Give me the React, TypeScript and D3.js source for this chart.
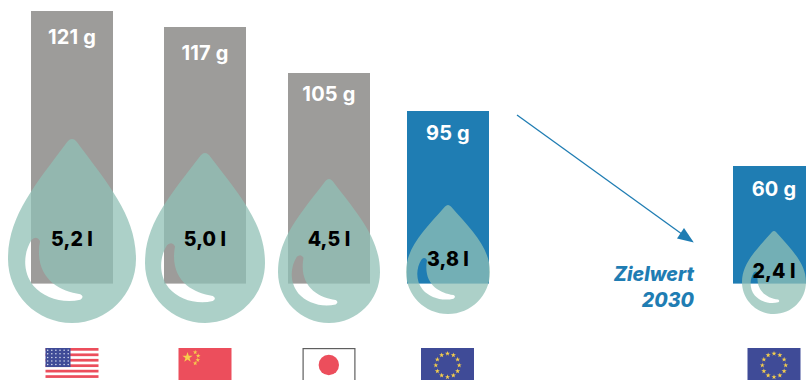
import * as d3 from "d3";

// CO2 per km (g) and fuel use (l/100 km) by market, plus the EU 2030 target
const regions = ["USA", "China", "Japan", "EU", "EU 2030"];
const grams = [121, 117, 105, 95, 60];
const litres = [5.2, 5.0, 4.5, 3.8, 2.4];
const targetLabel = ["Zielwert", "2030"];

const GREY = "#9d9c9a";
const BLUE = "#1f7db3";
const DROP = "#90c0b6";
const RED = "#ec4e5c";
const NAVY = "#3f4b97";
const GOLD = "#f6cf4c";
const FONT = "Inter, 'Noto Sans', sans-serif";

const barWidth = 82;
const barBase = 283.6;
const flagTop = 348;
const flagWidth = 53;
const flagHeight = 36;

const centre = d3.scaleOrdinal<string, number>().domain(regions).range([72, 205, 329, 448, 774]);
const barColor = d3.scaleOrdinal<string, string>().domain(regions).range([GREY, GREY, GREY, BLUE, BLUE]);

// The graphic is an infographic, so its bar and drop sizes follow hand-set stops rather than a zero-based axis
const barTop = d3.scaleLinear().domain([60, 95, 105, 117, 121]).range([166, 111, 73, 27, 11]);
const dropHeight = d3.scaleLinear().domain([2.4, 3.8, 4.5, 5.0, 5.2]).range([83, 109, 144, 170, 184]);
const dropWidth = d3.scaleLinear().domain([2.4, 3.8, 4.5, 5.0, 5.2]).range([64, 84, 102, 120, 128]);
const dropBottom = d3.scaleThreshold<number, number>().domain([4]).range([314, 323]);
const gramBaseline = d3.scaleOrdinal<string, number>().domain(regions).range([32.5, 33, 27.5, 28.5, 29.5]);
const litreBaseline = d3.scaleOrdinal<string, number>().domain(regions).range([246, 246, 246, 266, 278]);

// Drop outline: a circular belly under a tapered tip, with a crescent highlight cut out of it
function dropPath(cx: number, bottom: number, w: number, h: number) {
  const r = w / 2;
  const top = bottom - h;
  const cy = bottom - r;
  const k = 0.5523 * r;
  const p = d3.path();
  const tipR = Math.max(1.5, r * 0.07);
  const shoulder = cy - top;
  p.moveTo(cx - tipR, top + tipR * 0.55);
  p.quadraticCurveTo(cx, top - tipR * 0.55, cx + tipR, top + tipR * 0.55);
  p.bezierCurveTo(cx + r * 0.57, top + shoulder * 0.38, cx + r, top + shoulder * 0.64, cx + r, cy);
  p.bezierCurveTo(cx + r, cy + k, cx + k, bottom, cx, bottom);
  p.bezierCurveTo(cx - k, bottom, cx - r, cy + k, cx - r, cy);
  p.bezierCurveTo(cx - r, top + shoulder * 0.64, cx - r * 0.57, top + shoulder * 0.38, cx - tipR, top + tipR * 0.55);
  p.closePath();

  const X = (v: number) => cx + v * r;
  const Y = (v: number) => cy + v * r;
  p.moveTo(X(-0.63), Y(-0.3));
  p.bezierCurveTo(X(-0.76), Y(-0.1), X(-0.78), Y(0.2), X(-0.6), Y(0.42));
  p.bezierCurveTo(X(-0.44), Y(0.6), X(-0.15), Y(0.7), X(0.13), Y(0.635));
  p.quadraticCurveTo(X(0.2), Y(0.59), X(0.13), Y(0.55));
  p.bezierCurveTo(X(-0.22), Y(0.5), X(-0.6), Y(0.28), X(-0.5), Y(-0.28));
  p.quadraticCurveTo(X(-0.55), Y(-0.37), X(-0.63), Y(-0.3));
  p.closePath();
  return p.toString();
}

const star = d3.symbol().type(d3.symbolStar);

function Stars({ cx, cy, radius }: { cx: number; cy: number; radius: number }) {
  return (
    <g fill={GOLD}>
      {d3.range(12).map((i) => {
        const a = (i * Math.PI) / 6;
        return (
          <path
            key={i}
            d={star.size(8)() as string}
            transform={`translate(${cx + radius * Math.sin(a)},${cy - radius * Math.cos(a)})`}
          />
        );
      })}
    </g>
  );
}

function UsFlag({ x }: { x: number }) {
  const stripe = 2.72;
  return (
    <g>
      {d3.range(0, 13, 2).map((i) => (
        <rect key={i} x={x} y={flagTop + i * stripe} width={flagWidth} height={stripe} fill={RED} />
      ))}
      <rect x={x} y={flagTop} width={25} height={stripe * 7} fill={NAVY} />
      {d3.range(5).map((row) =>
        d3.range(6).map((col) => (
          <circle
            key={`${row}-${col}`}
            cx={x + 2.2 + col * 4.1}
            cy={flagTop + 2.2 + row * 3.6}
            r={0.75}
            fill="#dfe3f2"
          />
        ))
      )}
    </g>
  );
}

function ChinaFlag({ x }: { x: number }) {
  const small: [number, number][] = [[16.7, 4.3], [19.7, 7.7], [19.3, 12], [16.7, 15.3]];
  return (
    <g>
      <rect x={x} y={flagTop} width={flagWidth} height={flagHeight} fill={RED} />
      <path d={star.size(34)() as string} transform={`translate(${x + 9},${flagTop + 9.4})`} fill={GOLD} />
      {small.map(([dx, dy], i) => (
        <path key={i} d={star.size(7)() as string} transform={`translate(${x + dx},${flagTop + dy})`} fill={GOLD} />
      ))}
    </g>
  );
}

function JapanFlag({ x }: { x: number }) {
  return (
    <g>
      <rect x={x + 0.6} y={flagTop + 0.6} width={flagWidth - 1.2} height={flagHeight} fill="#fff" stroke="#5f5f5f" strokeWidth={1.2} />
      <circle cx={x + flagWidth / 2 - 0.2} cy={flagTop + 17} r={10.2} fill={RED} />
    </g>
  );
}

function EuFlag({ x }: { x: number }) {
  return (
    <g>
      <rect x={x} y={flagTop} width={flagWidth} height={flagHeight} fill={NAVY} />
      <Stars cx={x + flagWidth / 2} cy={flagTop + 17.3} radius={11.7} />
    </g>
  );
}

const flagFor: Record<string, (x: number) => JSX.Element> = {
  USA: (x) => <UsFlag x={x} />,
  China: (x) => <ChinaFlag x={x} />,
  Japan: (x) => <JapanFlag x={x} />,
  EU: (x) => <EuFlag x={x} />,
  "EU 2030": (x) => <EuFlag x={x} />,
};

const comma = (v: number) => v.toFixed(1).replace(".", ",");

export default function App() {
  return (
    <svg
      width={806}
      height={380}
      viewBox="0 0 806 380"
      style={{ position: "absolute", left: 0, top: 0, display: "block", background: "#fff" }}
      fontFamily={FONT}
    >
      {regions.map((region, i) => {
        const cx = centre(region);
        const top = barTop(grams[i]);
        return (
          <rect
            key={region}
            x={cx - barWidth / 2}
            y={top}
            width={barWidth}
            height={barBase - top}
            fill={barColor(region)}
          />
        );
      })}

      {regions.map((region, i) => (
        <path
          key={region}
          d={dropPath(centre(region), dropBottom(litres[i]), dropWidth(litres[i]), dropHeight(litres[i]))}
          fill={DROP}
          fillOpacity={0.75}
          fillRule="evenodd"
        />
      ))}

      {regions.map((region, i) => (
        <text
          key={region}
          x={centre(region)}
          y={barTop(grams[i]) + gramBaseline(region)}
          textAnchor="middle"
          fontSize={20}
          fontWeight={700}
          letterSpacing={0.2}
          fill="#fff"
        >
          {`${grams[i]} g`}
        </text>
      ))}

      {regions.map((region, i) => (
        <text
          key={region}
          x={centre(region)}
          y={litreBaseline(region)}
          textAnchor="middle"
          fontSize={19.5}
          fontWeight={800}
          letterSpacing={0.1}
          fill="#000"
        >
          {`${comma(litres[i])} l`}
        </text>
      ))}

      <g stroke={BLUE} fill={BLUE}>
        <line x1={517} y1={115} x2={686} y2={237} strokeWidth={1.3} />
        <path d="M693.8,242.4 L684,228 L677,238.5 Z" strokeWidth={0} />
      </g>

      <g textAnchor="end" fontSize={19.5} fontWeight={800} fontStyle="italic" fill={BLUE}>
        {targetLabel.map((line, i) => (
          <text key={line} x={694} y={281 + i * 25.7}>
            {line}
          </text>
        ))}
      </g>

      {regions.map((region) => (
        <g key={region}>{flagFor[region](centre(region) - flagWidth / 2 - (region === "EU" ? 0.5 : 0))}</g>
      ))}
    </svg>
  );
}
